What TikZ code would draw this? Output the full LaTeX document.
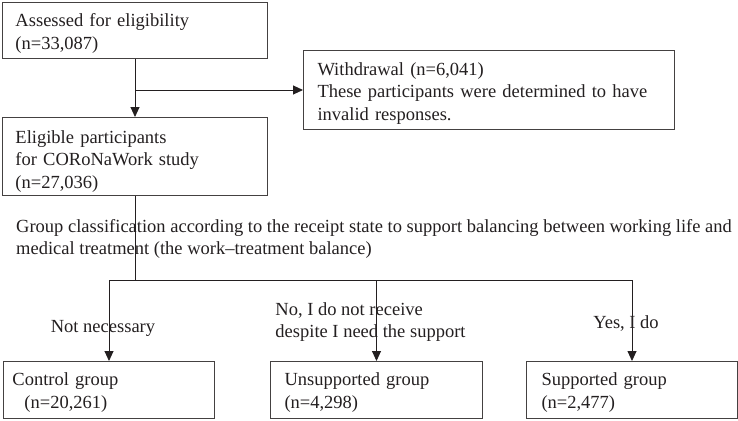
\documentclass[tikz,border=0pt]{standalone}
\usepackage{fontspec}
\setmainfont{Liberation Serif}
\usetikzlibrary{arrows.meta, calc}
\definecolor{ink}{HTML}{231F20}
\tikzset{
    flowbase/.style={x=1pt, y=-1pt, font=\fontsize{18.5}{22.5}\selectfont, text=ink, >={Triangle[length=10pt, width=9pt]}},
    box/.style={rectangle, draw=ink!85, line width=1pt, anchor=north west, align=left, inner xsep=13pt, inner ysep=0pt},
    topstrut/.style={execute at begin node={\rule{0pt}{#1}}},
    line/.style={draw=ink, line width=0.9pt},
    arrow/.style={line, ->},
    branchlabel/.style={align=left, xshift=-6pt, inner sep=0pt},
}

\begin{document}
\begin{tikzpicture}[flowbase]
\useasboundingbox (0,0) rectangle (738,420);

% ===================== TOP: ELIGIBILITY =====================
\node[box, topstrut=18.6pt, text width=239pt, minimum height=56pt] (assess) at (2,2) {Assessed for eligibility\\(n=33,087)};
\node[box, topstrut=19pt, inner xsep=14pt, text width=343pt, minimum height=79pt] (withdraw) at (303,50) {Withdrawal (n=6,041)\\These participants were determined to have\\invalid responses.};
\node[box, topstrut=22.6pt, text width=239pt, minimum height=78pt] (elig) at (2,117) {Eligible participants\\for CORoNaWork study\\(n=27,036)};

\draw[arrow] (assess) -- (elig);
\draw[arrow] (assess.south |- withdraw.west) -- (withdraw.west);

% ===================== CLASSIFICATION =====================
\node[anchor=west, align=left, inner sep=0pt] (classify) at (16,239) {Group classification according to the receipt state to support balancing between working life and\\medical treatment (the work--treatment balance)};

% ===================== BOTTOM: GROUPS =====================
\node[box, topstrut=17.6pt, inner xsep=9pt, text width=193pt, minimum height=57pt] (ctrl) at (3,361) {Control group\\\hspace*{12pt}(n=20,261)};
\node[box, topstrut=17.6pt, inner xsep=14pt, text width=184pt, minimum height=57pt] (unsupp) at (270,361) {Unsupported group\\(n=4,298)};
\node[box, topstrut=17.6pt, inner xsep=15pt, text width=181pt, minimum height=57pt] (supp) at (526,361) {Supported group\\(n=2,477)};

\coordinate (split) at ($(elig.south)+(0,84)$);
\draw[line] (elig.south) -- (split);
\draw[line] (ctrl.north |- split) -- (supp.north |- split);
\draw[arrow] (ctrl.north |- split) -- node[branchlabel, yshift=-8pt]{Not necessary} (ctrl.north);
\draw[arrow] (unsupp.north |- split) -- node[branchlabel, yshift=-1.5pt]{No, I do not receive\\despite I need the support} (unsupp.north);
\draw[arrow] (supp.north |- split) -- node[branchlabel, yshift=-3pt]{Yes, I do} (supp.north);

\end{tikzpicture}
\end{document}
